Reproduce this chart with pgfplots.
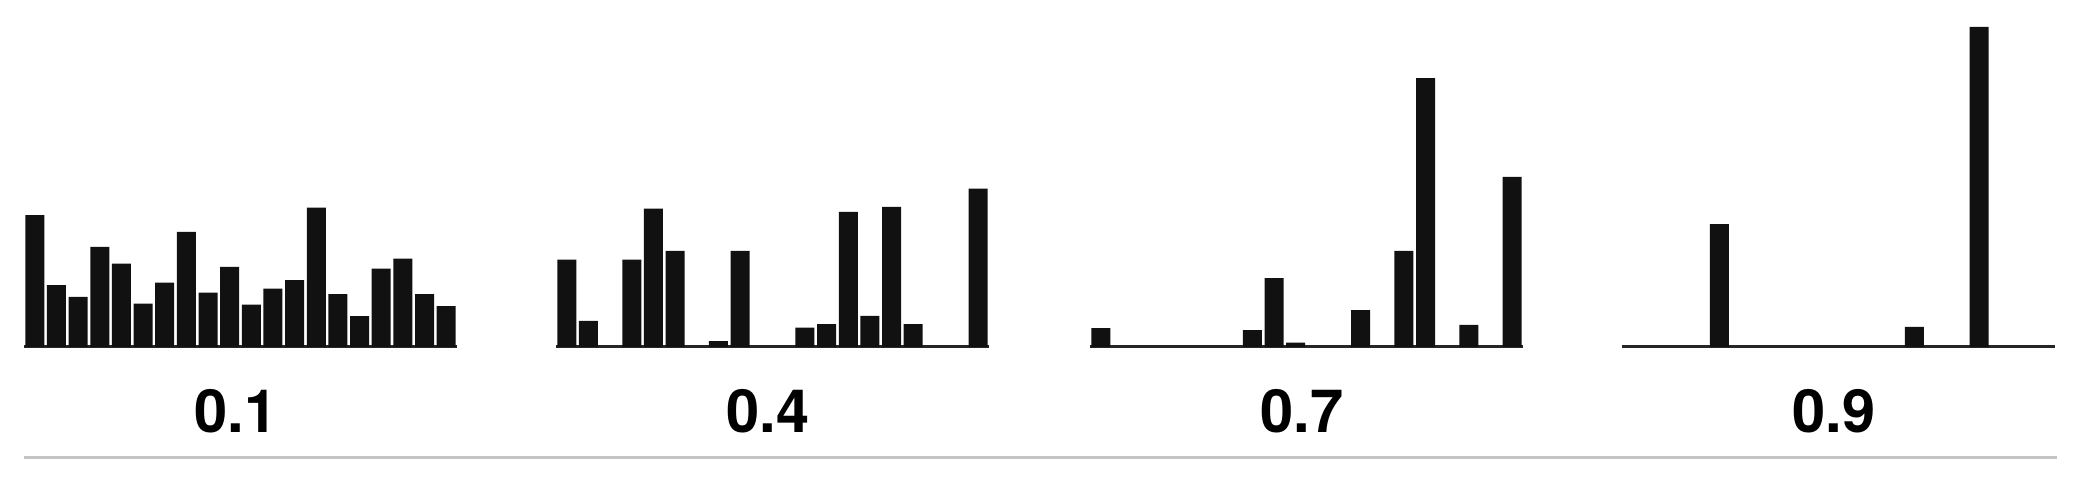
\documentclass[border=0pt]{standalone}
\usepackage{fontspec}
\setmainfont{TeX Gyre Heros}
\usepackage{pgfplots}
\pgfplotsset{compat=1.18}

\definecolor{barfill}{HTML}{111111}
\definecolor{rulegray}{HTML}{C4C4C4}

% one panel = 20 slots, all panels share the same y scale
\pgfplotsset{
  panel/.style={
    scale only axis,
    width=108.25pt, height=80pt,
    anchor=south west,
    xmin=-0.5, xmax=19.5,
    ymin=0, ymax=320,
    enlargelimits=false,
    axis x line*=bottom,
    axis y line=none,
    x axis line style={-, line width=0.8pt, black!85},
    xtick=\empty, ytick=\empty,
    ybar, bar width=4.75pt,
    xlabel style={at={(axis description cs:0.49,-0.2)}, anchor=center,
      font=\fontsize{14.9}{17}\selectfont\bfseries},
    clip=false,
  },
  panelbar/.style={fill=barfill, draw=none},
}

\begin{document}
\begin{tikzpicture}
\useasboundingbox (0,0) rectangle (520.5pt,121pt);

\begin{axis}[panel, at={(6pt,34.3pt)}, xlabel={0.1}]
\addplot[panelbar] coordinates {
  (0,131.7) (1,61.7) (2,50) (3,100) (4,83.3) (5,43.3) (6,64.3) (7,115)
  (8,54.3) (9,80) (10,42.3) (11,58.3) (12,66.7) (13,139.3) (14,52.7)
  (15,30.7) (16,78.3) (17,88.3) (18,52.7) (19,40.7)};
\end{axis}

\begin{axis}[panel, at={(139pt,34.3pt)}, xlabel={0.4}]
\addplot[panelbar] coordinates {
  (0,87.3) (1,26) (3,87.3) (4,138.3) (5,96) (7,5.7) (8,96)
  (11,19.3) (12,22.7) (13,135) (14,31) (15,140) (16,22.7) (19,158.3)};
\end{axis}

\begin{axis}[panel, at={(272.5pt,34.3pt)}, xlabel={0.7}]
\addplot[panelbar] coordinates {
  (0,18.7) (7,16.7) (8,68.7) (9,4.3) (12,36.7) (14,96) (15,268.7)
  (17,22) (19,170)};
\end{axis}

\begin{axis}[panel, at={(405.5pt,34.3pt)}, xlabel={0.9}]
\addplot[panelbar] coordinates {(4,122.7) (13,20) (16,320)};
\end{axis}

% light rule under the labels
\draw[rulegray, line width=0.8pt] (6pt,6.7pt) -- (514.25pt,6.7pt);
\end{tikzpicture}
\end{document}
